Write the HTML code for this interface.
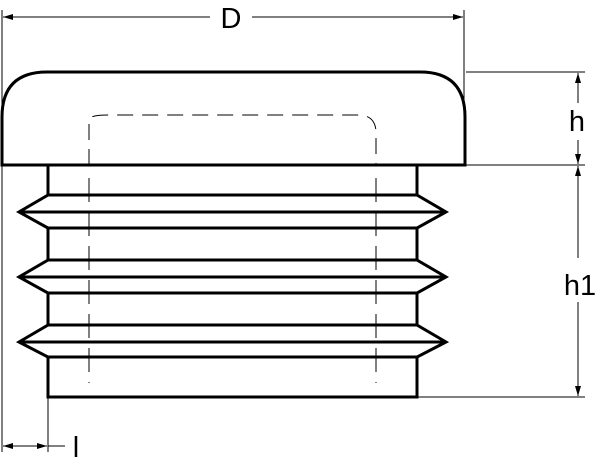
<!DOCTYPE html>
<html><head><style>body{margin:0;background:#fff}svg{display:block}</style></head><body>
<svg width="600" height="469" viewBox="0 0 600 469" xmlns="http://www.w3.org/2000/svg">
<defs>
<marker id="a" viewBox="0 0 10 6" refX="10" refY="3" markerWidth="10" markerHeight="6" markerUnits="userSpaceOnUse" orient="auto-start-reverse"><path d="M0,0 L10,3 L0,6 z" fill="#000"/></marker>
</defs>
<g stroke="#000" stroke-width="1" fill="none">
<line x1="2" y1="10" x2="2" y2="452"/>
<line x1="464" y1="10" x2="464" y2="100"/>
<line x1="3" y1="17" x2="210" y2="17" marker-start="url(#a)"/>
<line x1="252" y1="17" x2="463" y2="17" marker-end="url(#a)"/>
<line x1="466" y1="72" x2="585" y2="72"/>
<line x1="418" y1="165" x2="585" y2="165"/>
<line x1="418" y1="397" x2="585" y2="397"/>
<line x1="578" y1="73" x2="578" y2="103" marker-start="url(#a)"/>
<line x1="578" y1="140" x2="578" y2="164" marker-end="url(#a)"/>
<line x1="578" y1="166" x2="578" y2="258" marker-start="url(#a)"/>
<line x1="578" y1="302" x2="578" y2="396" marker-end="url(#a)"/>
<line x1="48" y1="398" x2="48" y2="452"/>
<line x1="3" y1="446" x2="47" y2="446" marker-start="url(#a)" marker-end="url(#a)"/>
<line x1="48" y1="446" x2="65" y2="446"/>
<path d="M89,165 V120 Q89,115 108,115 H358 Q376,115 376,133 V165" stroke-dasharray="16,9"/>
<line x1="89" y1="178" x2="89" y2="383" stroke-dasharray="24,10"/>
<line x1="376" y1="178" x2="376" y2="383" stroke-dasharray="24,10"/>
</g>
<g stroke="#000" stroke-width="3" fill="none" stroke-linejoin="miter">
<path d="M2,165 V117 Q2,72 47,72 H420 Q465,72 465,117 V165 Z"/>
<path d="M48,165 V195 L19,212 L48,228 V260 L19,277 L48,293 V325 L19,342 L48,357 V397 H417 V357 L446,342 L417,325 V293 L446,277 L417,260 V228 L446,212 L417,195 V165"/>
<line x1="48" y1="195" x2="417" y2="195"/><line x1="19" y1="212" x2="446" y2="212"/><line x1="48" y1="228" x2="417" y2="228"/>
<line x1="48" y1="260" x2="417" y2="260"/><line x1="19" y1="277" x2="446" y2="277"/><line x1="48" y1="293" x2="417" y2="293"/>
<line x1="48" y1="325" x2="417" y2="325"/><line x1="19" y1="342" x2="446" y2="342"/><line x1="48" y1="357" x2="417" y2="357"/>
</g>
<g font-family="Liberation Sans, sans-serif" font-size="29" fill="#000">
<text x="231" y="28" text-anchor="middle">D</text>
<text x="577" y="131" text-anchor="middle">h</text>
<text x="580" y="295" text-anchor="middle">h1</text>
<text x="76" y="457" text-anchor="middle">l</text>
</g>
</svg>
</body></html>
